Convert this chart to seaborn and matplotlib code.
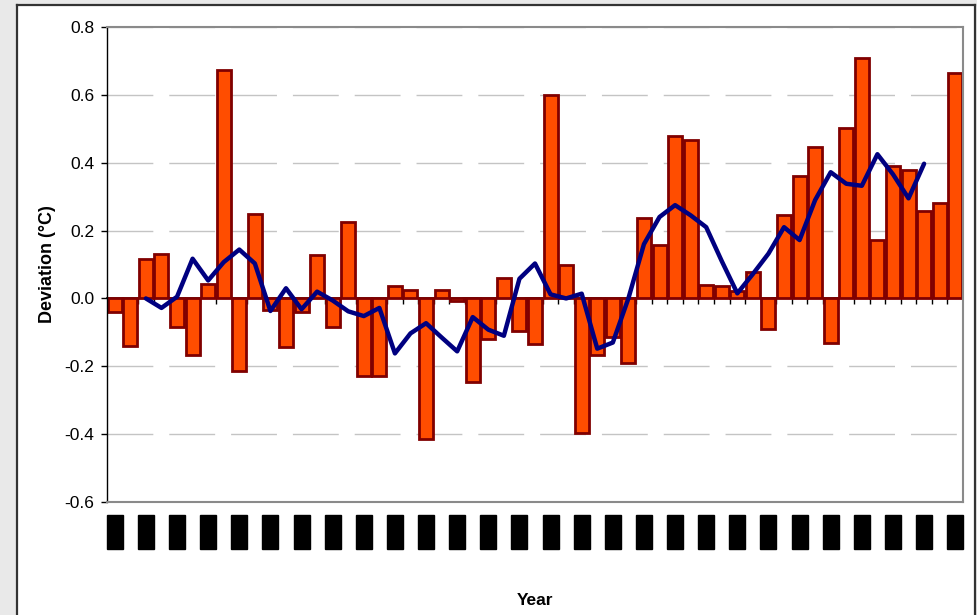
import numpy as np
import pandas as pd
import seaborn as sns
import matplotlib.pyplot as plt

# yearly temperature deviation (bars) and running mean (line)
years = list(range(1950, 2005))
deviation = [-0.04, -0.14, 0.115, 0.13, -0.085, -0.166, 0.043, 0.673, -0.213, 0.248,
             -0.034, -0.144, -0.04, 0.129, -0.085, 0.225, -0.229, -0.229, 0.036, 0.025,
             -0.414, 0.025, -0.008, -0.247, -0.12, 0.06, -0.095, -0.134, 0.599, 0.10,
             -0.397, -0.168, -0.114, -0.19, 0.238, 0.158, 0.478, 0.466, 0.041, 0.036,
             0.022, 0.078, -0.09, 0.245, 0.36, 0.447, -0.131, 0.503, 0.709, 0.171,
             0.39, 0.378, 0.257, 0.28, 0.663]
smooth_years = years[2:53]
smooth = [0.0, -0.028, 0.005, 0.117, 0.053, 0.107, 0.144, 0.103, -0.037, 0.03,
          -0.032, 0.02, -0.006, -0.038, -0.052, -0.028, -0.162, -0.103, -0.073, -0.115,
          -0.156, -0.055, -0.092, -0.11, 0.058, 0.103, 0.012, 0.0, 0.014, -0.148,
          -0.13, 0.0, 0.16, 0.24, 0.275, 0.245, 0.21, 0.11, 0.015, 0.072,
          0.132, 0.21, 0.172, 0.29, 0.372, 0.338, 0.332, 0.425, 0.366, 0.295, 0.397]
y_ticks = [-0.6, -0.4, -0.2, 0.0, 0.2, 0.4, 0.6, 0.8]

YMIN, YMAX = -0.6, 0.8

plt.rcParams['font.family'] = ['Liberation Sans', 'DejaVu Sans']

fig = plt.figure(figsize=(9.77, 6.15), dpi=100)
fig.patch.set_facecolor('#e9e9e9')

# white chart panel with dark border, behind the plot
bg = fig.add_axes([17 / 977, -0.01, 958 / 977, 1.01 - 5 / 615], zorder=-1)
bg.set_facecolor('white')
bg.set_xticks([])
bg.set_yticks([])
for s in bg.spines.values():
    s.set_color('#333333')
    s.set_linewidth(1.6)

ax = fig.add_axes([107 / 977, 113 / 615, 856 / 977, 475 / 615])
ax.set_facecolor('white')

df = pd.DataFrame({'year': years, 'deviation': deviation})
sns.barplot(data=df, x='year', y='deviation', native_scale=True, width=0.9,
            color='#ff4d00', saturation=1, edgecolor='#800000', linewidth=2,
            errorbar=None, ax=ax, zorder=2)
sns.lineplot(x=smooth_years, y=smooth, color='#000080', linewidth=3.2,
             solid_joinstyle='round', solid_capstyle='round', ax=ax, zorder=4)

ax.set_xlim(years[0] - 0.5, years[-1] + 0.5)
ax.set_ylim(YMIN, YMAX)

# grid
ax.set_axisbelow(True)
ax.yaxis.grid(True, color='#c4c4c4', linewidth=1, linestyle=(0, (33, 11.5)))
ax.xaxis.grid(False)

# y axis
ax.set_yticks(y_ticks)
ax.set_yticklabels(['{:.1f}'.format(v) for v in y_ticks])
ax.tick_params(axis='y', direction='out', length=4, width=1, color='black',
               labelsize=12.5, pad=5)
ax.set_ylabel('Deviation (°C)', fontsize=13, fontweight='bold', labelpad=6)

# x axis labels (shown as solid black blocks)
lab_years = years[::2]
ax.set_xticks(lab_years)
ax.set_xticklabels([str(y) for y in lab_years], rotation=90, fontsize=9.5,
                   fontweight='bold')
for t in ax.get_xticklabels():
    t.set_bbox(dict(boxstyle='square,pad=0.15', facecolor='black', edgecolor='black'))
ax.tick_params(axis='x', length=0, pad=11)
ax.set_xlabel('Year', fontsize=12.5, fontweight='bold', labelpad=33)

for side in ['top', 'right', 'bottom']:
    ax.spines[side].set_color('#8a8a8a')
    ax.spines[side].set_linewidth(1.5)
ax.spines['left'].set_color('black')
ax.spines['left'].set_linewidth(1)

# category axis crossing at zero with ticks between bars
zero_frac = (0 - YMIN) / (YMAX - YMIN)
sec = ax.secondary_xaxis(zero_frac)
sec.set_xticks([y + 0.5 for y in years[:-1]])
sec.set_xticklabels([])
sec.tick_params(direction='out', length=4, width=1, color='black')
sec.spines['bottom'].set_color('black')
sec.spines['bottom'].set_linewidth(1.2)

plt.savefig('out.png', dpi=100, facecolor=fig.get_facecolor())
